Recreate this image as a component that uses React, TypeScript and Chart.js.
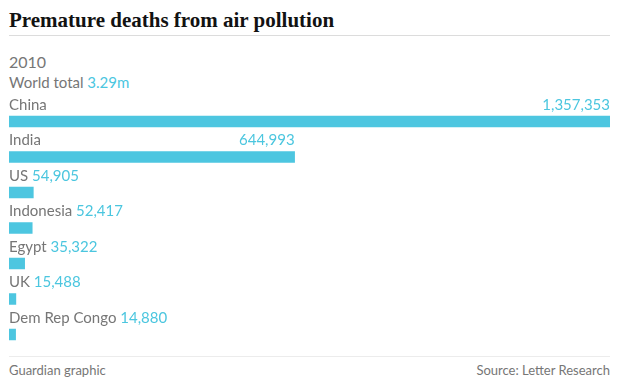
import React, { useEffect, useRef } from "react";
import { Chart, registerables } from "chart.js";
Chart.register(...registerables);

const countries = ["China", "India", "US", "Indonesia", "Egypt", "UK", "Dem Rep Congo"];
const deaths = [1357353, 644993, 54905, 52417, 35322, 15488, 14880];
const valueLabels = ["1,357,353", "644,993", "54,905", "52,417", "35,322", "15,488", "14,880"];
const yearLabel = "2010";
const worldTotalLabel = "World total";
const worldTotalValue = "3.29m";

const GRAY = "#767676";
const CYAN = "#4bc6df";
const BAR = "#4dc6e0";
const SANS = "Lato, 'Open Sans', sans-serif";

const labelPlugin = {
  id: "rowLabels",
  afterDatasetsDraw(chart: any) {
    const ctx = chart.ctx;
    const meta = chart.getDatasetMeta(0);
    const left = chart.chartArea.left;
    ctx.save();
    ctx.font = `15px ${SANS}`;
    ctx.textBaseline = "middle";
    meta.data.forEach((bar: any, i: number) => {
      const y = bar.y - 16.5;
      const name = countries[i];
      const val = valueLabels[i];
      const nw = ctx.measureText(name).width;
      const sw = ctx.measureText(" ").width;
      const vw = ctx.measureText(val).width;
      ctx.textAlign = "left";
      ctx.fillStyle = GRAY;
      ctx.fillText(name, left, y);
      ctx.fillStyle = CYAN;
      if (bar.x - left > nw + vw + 40) {
        ctx.textAlign = "right";
        ctx.fillText(val, bar.x, y);
      } else {
        ctx.fillText(val, left + nw + sw, y);
      }
    });
    ctx.restore();
  },
};

export default function App() {
  const ref = useRef<HTMLCanvasElement>(null);
  useEffect(() => {
    const chart = new Chart(ref.current!, {
      type: "bar",
      data: {
        labels: countries,
        datasets: [
          {
            data: deaths,
            backgroundColor: BAR,
            barThickness: 11,
            borderWidth: 0,
          },
        ],
      },
      options: {
        indexAxis: "y",
        animation: false,
        responsive: false,
        maintainAspectRatio: false,
        layout: { padding: { left: 9, right: 30, top: 15.75, bottom: 3.75 } },
        plugins: { legend: { display: false }, tooltip: { enabled: false } },
        scales: {
          x: { display: false, min: 0, max: deaths[0] },
          y: { display: false, offset: true },
        },
      },
      plugins: [labelPlugin],
    });
    return () => chart.destroy();
  }, []);

  return (
    <div style={{ position: "fixed", left: 0, top: 0, width: 640, height: 392, background: "#fff", overflow: "hidden" }}>
      <div
        style={{
          position: "absolute",
          left: 9,
          top: 6,
          fontFamily: "'Liberation Serif', 'DejaVu Serif', serif",
          fontWeight: 700,
          fontSize: 21,
          color: "#121212",
          lineHeight: "28px",
          whiteSpace: "nowrap",
        }}
      >
        Premature deaths from air pollution
      </div>
      <div style={{ position: "absolute", left: 9, top: 35, width: 601, height: 1, background: "#dcdcdc" }} />
      <div style={{ position: "absolute", left: 9, top: 52, fontFamily: SANS, fontSize: 16, color: GRAY, lineHeight: "20px" }}>
        {yearLabel}
      </div>
      <div style={{ position: "absolute", left: 9, top: 72, fontFamily: SANS, fontSize: 15, color: GRAY, lineHeight: "20px", whiteSpace: "nowrap" }}>
        {worldTotalLabel} <span style={{ color: CYAN }}>{worldTotalValue}</span>
      </div>
      <canvas ref={ref} width={640} height={268} style={{ position: "absolute", left: 0, top: 88, width: 640, height: 268 }} />
      <div style={{ position: "absolute", left: 9, top: 356, width: 601, height: 1, background: "#ececec" }} />
      <div style={{ position: "absolute", left: 9, top: 361, fontFamily: SANS, fontSize: 13, color: GRAY, lineHeight: "18px" }}>
        Guardian graphic
      </div>
      <div style={{ position: "absolute", right: 30, top: 361, fontFamily: SANS, fontSize: 13, color: GRAY, lineHeight: "18px", whiteSpace: "nowrap" }}>
        Source: Letter Research
      </div>
    </div>
  );
}
